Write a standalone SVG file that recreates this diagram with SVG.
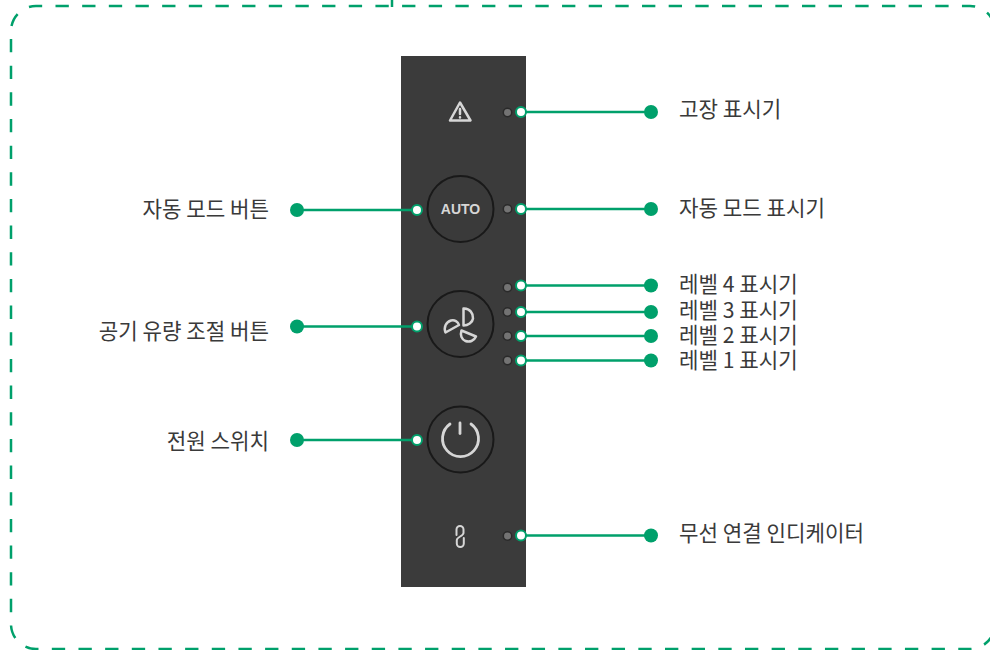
<svg xmlns="http://www.w3.org/2000/svg" width="990" height="650" viewBox="0 0 990 650">
<style>
.b{fill:none;stroke:#00a06b;stroke-width:2.5;stroke-dasharray:13.33 13.33}
.l{stroke:#00a06b;stroke-width:2.5;fill:none}
.e{fill:#00a06b}
.p{fill:#fff;stroke:#00a06b;stroke-width:2}
.led{fill:#737373;stroke:#2a2a2a;stroke-width:1.5}
.btn{fill:#3a3a3a;stroke:#191919;stroke-width:2}
.i{fill:none;stroke:#d6d6d6;stroke-width:2.500;stroke-linejoin:round;stroke-linecap:round}
text{font-family:"Noto Sans CJK KR","Noto Sans",sans-serif;font-size:21.200px;fill:#3a3a3a}
.r{text-anchor:end}
</style>
<rect width="990" height="650" fill="#fff"/>
<g id="frame">
<path class="b" d="M11 39V624A25 25 0 0 0 36 649H970A25 25 0 0 0 995 624"/>
<path class="b" stroke-dashoffset="21.46" d="M11 31A25 25 0 0 1 36 6H970A25 25 0 0 1 995 31"/>
<path class="l" d="M392 0V7"/>
</g>
<g id="panel">
<rect x="401" y="56" width="125" height="531" fill="#3b3b3b"/>
<g id="fault-icon"><path class="i" d="M460 102.500L470.500 120.500H450Z"/><path class="i" d="M460 109V114M460 117.300V117.600"/></g>
<g id="auto-button"><circle class="btn" cx="460.500" cy="209" r="33"/><text x="460.500" y="214" text-anchor="middle" style="font-family:'Liberation Sans',sans-serif;font-size:14px;font-weight:700;fill:#d6d6d6">AUTO</text></g>
<g id="fan-button"><circle class="btn" cx="460.500" cy="324" r="33"/><path class="i" d="M463.500 308.500C470 308 473.500 314 473 318.500C472.500 322.500 468 325.500 463.500 325.500Z"/><path class="i" d="M445.500 332.500C443.500 327 446 322 451 320.500C454.500 319.500 458 321.500 459 325Z"/><path class="i" d="M461.500 330.500L476 336.500C474 341 469.500 342.500 465.500 341C461.500 339.500 460 335 461.500 330.500Z"/></g>
<g id="power-button"><circle class="btn" cx="460.500" cy="439.500" r="33"/><path class="i" style="stroke-width:2.800" d="M450 424A18 18 0 1 0 471 424"/><path class="i" style="stroke-width:2.800" d="M460 423V433.500"/></g>
<g id="link-icon"><path class="i" style="stroke-width:2" d="M456.500 535V529.500A3.500 3.500 0 0 1 463.500 529.500V533C463.500 536 456.800 537 456.800 540V543.500A3.500 3.500 0 0 0 463.800 543.500V538"/></g>
<g id="leds"><circle class="led" cx="507.500" cy="112.500" r="4.200"/><circle class="led" cx="507.500" cy="209" r="4.200"/><circle class="led" cx="507.500" cy="287.500" r="4.200"/><circle class="led" cx="507.500" cy="312" r="4.200"/><circle class="led" cx="507.500" cy="336" r="4.200"/><circle class="led" cx="507.500" cy="360.500" r="4.200"/><circle class="led" cx="507.500" cy="536" r="4.200"/></g>
</g>
<g id="connectors">
<path class="l" d="M521 112H651M521 209H651M521 285.500H651M521 312H651M521 336H651M521 360.500H651M521 535.500H651M297 210H417M297 326.500H417M297 440H417"/>
<g class="e"><circle cx="651" cy="112" r="7"/><circle cx="651" cy="209" r="7"/><circle cx="651" cy="285.500" r="7"/><circle cx="651" cy="312" r="7"/><circle cx="651" cy="336" r="7"/><circle cx="651" cy="360.500" r="7"/><circle cx="651" cy="535.500" r="7"/><circle cx="297" cy="210" r="7"/><circle cx="297" cy="326.500" r="7"/><circle cx="297" cy="440" r="7"/></g>
<g class="p"><circle cx="521" cy="112" r="5"/><circle cx="521" cy="209" r="5"/><circle cx="521" cy="285.500" r="5"/><circle cx="521" cy="312" r="5"/><circle cx="521" cy="336" r="5"/><circle cx="521" cy="360.500" r="5"/><circle cx="521" cy="535.500" r="5"/><circle cx="417" cy="210" r="5"/><circle cx="417" cy="326.500" r="5"/><circle cx="417" cy="440" r="5"/></g>
</g>
<g id="labels">
<text x="679" y="117">고장 표시기</text>
<text x="679" y="216">자동 모드 표시기</text>
<text x="679" y="292">레벨 4 표시기</text>
<text x="679" y="318">레벨 3 표시기</text>
<text x="679" y="343">레벨 2 표시기</text>
<text x="679" y="368">레벨 1 표시기</text>
<text x="679" y="541">무선 연결 인디케이터</text>
<text class="r" x="269" y="217">자동 모드 버튼</text>
<text class="r" x="269" y="339">공기 유량 조절 버튼</text>
<text class="r" x="269" y="449">전원 스위치</text>
</g>
</svg>
